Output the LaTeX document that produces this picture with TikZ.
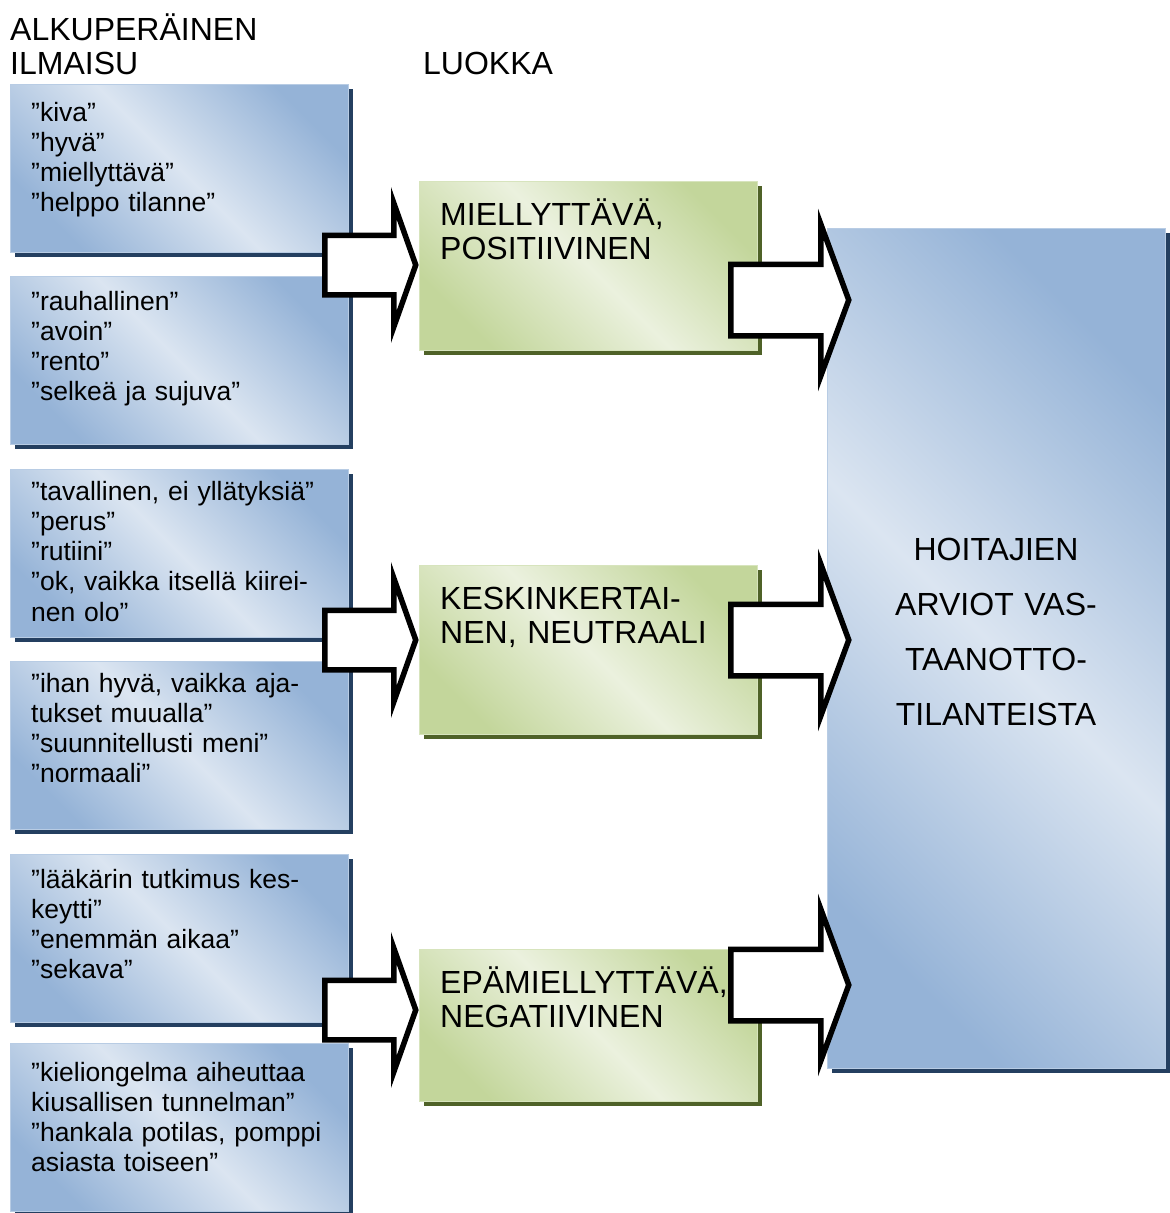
\documentclass[tikz,border=0pt]{standalone}
\usepackage{fontspec}
\setmainfont{Liberation Sans}
\usetikzlibrary{shadows}
\definecolor{bluelight}{HTML}{DBE5F1}
\definecolor{bluedark}{HTML}{95B3D7}
\definecolor{blueedge}{HTML}{B8CCE4}
\definecolor{blueshadow}{HTML}{243F60}
\definecolor{greenlight}{HTML}{EBF1DE}
\definecolor{greendark}{HTML}{C3D69B}
\definecolor{greenedge}{HTML}{D7E4BD}
\definecolor{greenshadow}{HTML}{4F6228}
\newcommand{\qfont}{\fontsize{26.5}{30.3}\selectfont}
\newcommand{\cfont}{\fontsize{32}{34}\selectfont}
\newcommand{\rfont}{\fontsize{32}{55}\selectfont}
% block arrow: tail centre, shaft length, half shaft, head length, half head
\newcommand{\bigarrow}[5]{\draw[arrowbox] (#1) ++(0,-#3) -- ++(#2,0) -- ++(0,#3-#5) -- ++(#4,#5) -- ++(-#4,#5) -- ++(0,#3-#5) -- ++(-#2,0) -- cycle;}

\begin{document}
\begin{tikzpicture}[x=1pt,y=-1pt,
  ilmbox/.style={anchor=north west,minimum width=338pt,minimum height=168pt,inner sep=0pt,
    draw=blueedge,line width=1.2pt,top color=bluedark,bottom color=bluedark,middle color=bluelight,shading angle=-45,
    drop shadow={shadow xshift=4pt,shadow yshift=-4pt,opacity=1,fill=blueshadow}},
  luokbox/.style={anchor=north west,minimum width=338pt,minimum height=169pt,inner sep=0pt,
    draw=greenedge,line width=1.2pt,top color=greendark,bottom color=greendark,middle color=greenlight,shading angle=-45,
    drop shadow={shadow xshift=4pt,shadow yshift=-4pt,opacity=1,fill=greenshadow}},
  ilmtext/.style={anchor=base west,align=left,text width=315pt,inner sep=0pt,font=\qfont},
  luoktext/.style={anchor=base west,align=left,text width=310pt,inner sep=0pt,font=\cfont},
  arrowbox/.style={draw=black,fill=white,line width=5.5pt,line join=miter}]
\useasboundingbox (0,0) rectangle (1170,1213);
%headings
\node[anchor=base west,align=left,text width=300pt,inner sep=0pt,font=\cfont] (alku) at (10,40) {ALKUPERÄINEN\\ILMAISU};
\node[anchor=base west,inner sep=0pt,font=\cfont] (luokka) at (423,74) {LUOKKA};
%original expressions
\node[ilmbox] (ilm1) at (10,84) {};
\node[ilmbox] (ilm2) at (10,276) {};
\node[ilmbox] (ilm3) at (10,469) {};
\node[ilmbox] (ilm4) at (10,661) {};
\node[ilmbox] (ilm5) at (10,854) {};
\node[ilmbox] (ilm6) at (10,1043) {};
\node[ilmtext] (ilm1t) at (31,121) {”kiva”\\”hyvä”\\”miellyttävä”\\”helppo tilanne”};
\node[ilmtext] (ilm2t) at (31,310) {”rauhallinen”\\”avoin”\\”rento”\\”selkeä ja sujuva”};
\node[ilmtext] (ilm3t) at (31,500) {”tavallinen, ei yllätyksiä”\\”perus”\\”rutiini”\\”ok, vaikka itsellä kiirei-\\nen olo”};
\node[ilmtext] (ilm4t) at (31,692) {”ihan hyvä, vaikka aja-\\tukset muualla”\\”suunnitellusti meni”\\”normaali”};
\node[ilmtext] (ilm5t) at (31,888) {”lääkärin tutkimus kes-\\keytti”\\”enemmän aikaa”\\”sekava”};
\node[ilmtext] (ilm6t) at (31,1081) {”kieliongelma aiheuttaa\\kiusallisen tunnelman”\\”hankala potilas, pomppi\\asiasta toiseen”};
%classes
\node[luokbox] (luok1) at (419,181) {};
\node[luokbox] (luok2) at (419,565) {};
\node[luokbox,minimum height=152pt] (luok3) at (419,949) {};
\node[luoktext] (luok1t) at (440,225) {MIELLYTTÄVÄ,\\POSITIIVINEN};
\node[luoktext] (luok2t) at (440,609) {KESKINKERTAI-\\NEN, NEUTRAALI};
\node[luoktext] (luok3t) at (440,993) {EPÄMIELLYTTÄVÄ,\\NEGATIIVINEN};
%result
\node[ilmbox,minimum height=840pt] (arvio) at (827,228) {};
\node[anchor=base,align=center,text width=338pt,inner sep=0pt,font=\rfont] (arviot) at (996,560) {HOITAJIEN\\ARVIOT VAS-\\TAANOTTO-\\TILANTEISTA};
%arrows
\coordinate (a1) at (324.75,265);
\coordinate (a2) at (324.75,640);
\coordinate (a3) at (324.75,1010);
\coordinate (b1) at (730.75,300);
\coordinate (b2) at (730.75,640);
\coordinate (b3) at (730.75,985);
\bigarrow{a1}{69}{29.75}{22}{62}
\bigarrow{a2}{69}{29.75}{22}{62}
\bigarrow{a3}{69}{29.75}{22}{62}
\bigarrow{b1}{90}{35.75}{28}{76}
\bigarrow{b2}{90}{35.75}{28}{76}
\bigarrow{b3}{90}{35.75}{28}{76}
\end{tikzpicture}
\end{document}
